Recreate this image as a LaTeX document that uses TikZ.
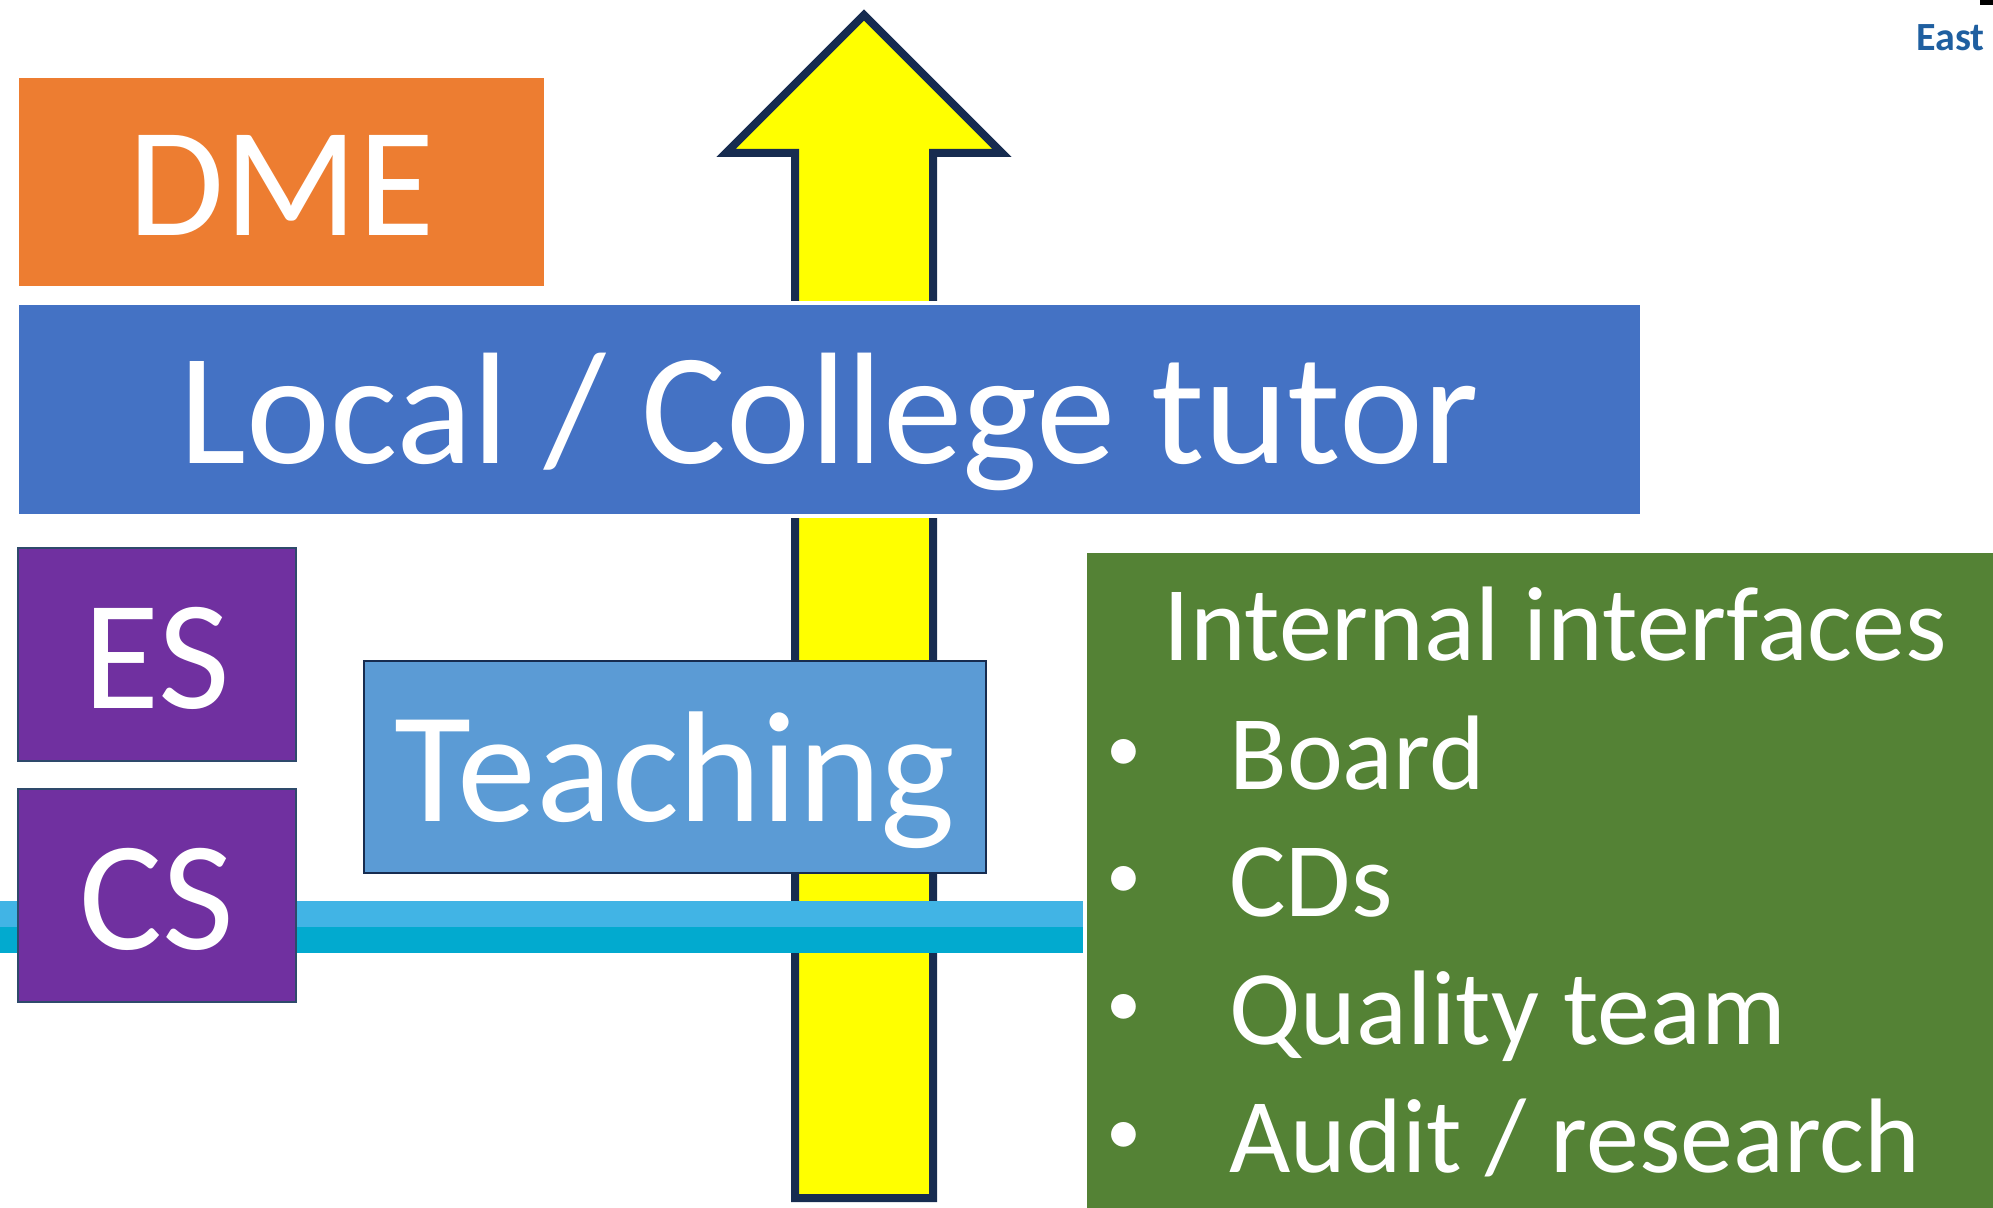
\documentclass[tikz,border=0pt]{standalone}
\usepackage{fontspec}
\setmainfont{Carlito}

\definecolor{dmeorange}{HTML}{ED7D31}
\definecolor{tutorblue}{HTML}{4472C4}
\definecolor{supervpurple}{HTML}{7030A0}
\definecolor{teachblue}{HTML}{5B9BD5}
\definecolor{ifacegreen}{HTML}{548235}
\definecolor{bandlight}{HTML}{41B4E5}
\definecolor{banddark}{HTML}{02AACF}
\definecolor{arrownavy}{HTML}{172C50}
\definecolor{boxedge}{HTML}{2E4A6B}
\definecolor{eastblue}{HTML}{1F5FA0}
\definecolor{arrowyellow}{HTML}{FFFF00}

\begin{document}
\begin{tikzpicture}[x=0.5pt,y=-0.5pt,
  box/.style={rectangle, inner sep=0pt, text=white,
    font=\fontsize{78}{80}\selectfont, text height=54pt, text depth=0pt},
  listitem/.style={anchor=base west, inner sep=0pt, text=white,
    font=\fontsize{53}{55}\selectfont},
  bulletdot/.style={anchor=base, inner sep=0pt, text=white,
    font=\fontsize{35}{37}\selectfont}]
\useasboundingbox (0,0) rectangle (1993,1208);

% the yellow arrow behind everything
\draw[arrownavy, fill=arrowyellow, line width=4pt, miter limit=10]
  (864,15) -- (1002,153) -- (933,153) -- (933,1198)
  -- (795,1198) -- (795,153) -- (726,153) -- cycle;

\node[box, fill=dmeorange, minimum width=262.5pt, minimum height=104pt]
  (dme) at (281.5,182) {DME};
\node[box, fill=tutorblue, draw=white, line width=2pt,
  font=\fontsize{79.5}{82}\selectfont,
  minimum width=812.5pt, minimum height=106.75pt]
  (tutor) at (829.5,409.75) {Local / College tutor};

% the band
\fill[bandlight] (0,901) rectangle (1083,927);
\fill[banddark] (0,927) rectangle (1083,953);

\node[box, fill=teachblue, draw=arrownavy, line width=1.2pt,
  font=\fontsize{79}{81}\selectfont,
  minimum width=311pt, minimum height=106pt]
  (teach) at (675,767) {Teaching};
\node[box, fill=supervpurple, draw=boxedge, line width=1.2pt,
  minimum width=139pt, minimum height=106.5pt] (es) at (157,654.5) {ES};
\node[box, fill=supervpurple, draw=boxedge, line width=1.2pt,
  minimum width=139pt, minimum height=106.5pt] (cs) at (157,895.5) {CS};

% internal interfaces
\node[rectangle, fill=ifacegreen, inner sep=0pt,
  minimum width=453pt, minimum height=327.5pt] (iface) at (1540,880.5) {};
\node[listitem] (ifacetitle) at (1163,661) {Internal interfaces};
\foreach \txt [count=\k] in {Board, CDs, Quality team, Audit / research} {
  \node[bulletdot] (dot\k) at (1124,{771+127.7*(\k-1)}) {•};
  \node[listitem] (item\k) at (1229,{789+127.7*(\k-1)}) {\txt};
}

\node[anchor=base east, inner sep=0pt, text=eastblue,
  font=\fontsize{20}{22}\selectfont\bfseries] (east) at (1985,51) {East};
\fill[black] (1980,0) rectangle (1993,5);
\end{tikzpicture}
\end{document}
